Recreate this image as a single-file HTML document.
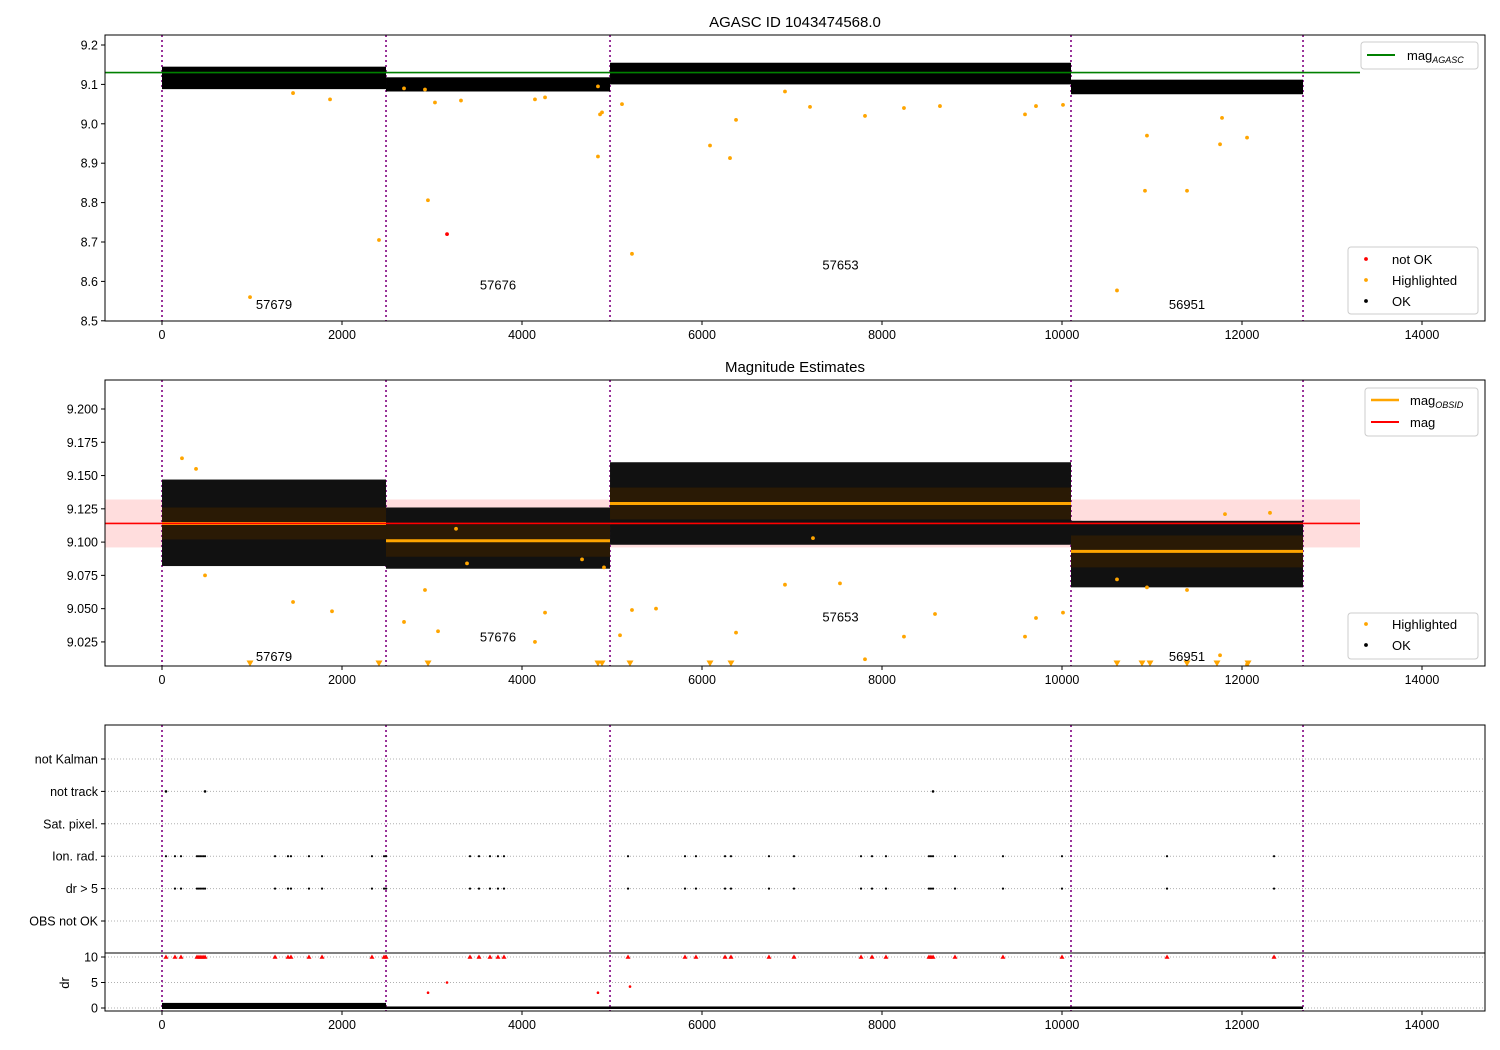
<!DOCTYPE html>
<html><head><meta charset="utf-8"><style>
body{margin:0;background:#fff;}
svg{display:block;font-family:"Liberation Sans","DejaVu Sans",sans-serif;}
</style></head><body>
<svg id="c" width="1500" height="1050" xmlns="http://www.w3.org/2000/svg"></svg>
<script>
const segStarts=[0,2489,4978,10100];
const segEnds=[2489,4978,10100,12678];
const obsids=["57679","57676","57653","56951"];
const p1Lo=[9.088,9.082,9.100,9.075];
const p1Hi=[9.145,9.118,9.155,9.112];
const p2Lo=[9.082,9.080,9.098,9.066];
const p2Hi=[9.147,9.126,9.160,9.116];
const obsMag=[9.114,9.101,9.129,9.093];
const magAgasc=9.13;
const magMean=9.114, magStd=0.018;
const p1HX=[978,2411,2955,1456,1867,2689,2922,3033,3322,4144,4256,4844,4889,4867,4844,5222,5111,6089,6311,6378,6922,7200,7811,8244,8644,9589,9711,10011,10944,10922,11389,11756,11778,12056,10611];
const p1HY=[8.56,8.705,8.806,9.078,9.062,9.09,9.087,9.054,9.059,9.062,9.067,9.095,9.029,9.024,8.917,8.67,9.05,8.945,8.913,9.01,9.082,9.043,9.02,9.04,9.045,9.024,9.045,9.048,8.97,8.83,8.83,8.948,9.015,8.965,8.577];
const p1RX=[3167];const p1RY=[8.72];
const p2HX=[222,378,478,1456,1889,2689,2922,3067,3267,3389,4144,4256,4667,4911,5089,5222,5489,6378,6922,7233,7533,7811,8244,8589,9589,9711,10011,10611,10944,11389,11756,12056,11811,12311];
const p2HY=[9.163,9.155,9.075,9.055,9.048,9.04,9.064,9.033,9.11,9.084,9.025,9.047,9.087,9.081,9.03,9.049,9.05,9.032,9.068,9.103,9.069,9.012,9.029,9.046,9.029,9.043,9.047,9.072,9.066,9.064,9.015,9.008,9.121,9.122];
const p2TX=[978,2411,2956,4844,4889,5200,6089,6322,10611,10889,10978,11389,11722,12067];
const cats=["not Kalman","not track","Sat. pixel.","Ion. rad.","dr > 5","OBS not OK"];
const flagX=[44,144,211,389,411,433,456,478,1256,1400,1433,1633,1778,2333,2467,2489,3422,3522,3644,3733,3800,5178,5811,5933,6256,6322,6744,7022,7767,7889,8044,8522,8544,8567,8811,9344,10000,11167,12356];
const notTrackX=[44,478,8567];
const drRedX=[2956,3167,4844,5200];
const drRedY=[3,5,3,4.2];
const drBand=[1.0,0.3,0.3,0.3];

const svg=document.getElementById('c');
const NS='http://www.w3.org/2000/svg';
function mk(t,a,p){const e=document.createElementNS(NS,t);for(const k in a)e.setAttribute(k,a[k]);(p||svg).appendChild(e);return e;}
const X=v=>162+v*0.09;
const Y1=v=>45+(9.2-v)*394;
const Y2=v=>409+(9.2-v)*1331;
const Yc=i=>759+i*32.4;
const Yd=v=>1008-v*5.1;
const L=105,R=1485;
const purple='#800080';

function xaxis(bot,tag){
  for(let v=0;v<=14000;v+=2000){
    const l=mk('line',{x1:X(v),x2:X(v),y1:bot,y2:bot+4,stroke:'#000'});
    
    const t=mk('text',{x:X(v),y:bot+18,'font-size':12.5,'text-anchor':'middle'});t.textContent=v;
    
  }
}
function vlines(top,bot){
  const xs=[0].concat(segEnds);
  xs.forEach(v=>{const l=mk('line',{x1:X(v),x2:X(v),y1:top,y2:bot,stroke:purple,'stroke-width':1.6,'stroke-dasharray':'2,3'});
  });
}
function ylab(y,txt,tag){
  mk('line',{x1:L-4,x2:L,y1:y,y2:y,stroke:'#000'});
  const t=mk('text',{x:L-7,y:y+4.5,'font-size':12.5,'text-anchor':'end'});t.textContent=txt;
  
}
function dot(x,y,r,c,name){const e=mk('circle',{cx:x,cy:y,r:r,fill:c});return e;}
function tri(x,y,c,s,name){const e=mk('path',{d:`M${x-s},${y-s*0.7}L${x+s},${y-s*0.7}L${x},${y+s}Z`,fill:c});}
function utri(x,y,c,s,name){const e=mk('path',{d:`M${x-s},${y+s*0.7}L${x+s},${y+s*0.7}L${x},${y-s}Z`,fill:c});}
function legendBox(x,y,w,h){mk('rect',{x:x,y:y,width:w,height:h,fill:'#fff',stroke:'#ccc',rx:3,'fill-opacity':0.8});}

// ---- Panel 1
let t=mk('text',{x:795,y:27,'font-size':15,'text-anchor':'middle'});t.textContent='AGASC ID 1043474568.0';

[9.2,9.1,9.0,8.9,8.8,8.7,8.6,8.5].forEach(v=>ylab(Y1(v),v.toFixed(1),'p1-y-tick-label'));
xaxis(321,'p1');
vlines(35,321);
for(let i=0;i<4;i++){
  const r=mk('rect',{x:X(segStarts[i]),y:Y1(p1Hi[i]),width:X(segEnds[i])-X(segStarts[i]),height:Y1(p1Lo[i])-Y1(p1Hi[i]),fill:'#000'});
  
}
let g=mk('line',{x1:L,x2:X(13311),y1:Y1(magAgasc),y2:Y1(magAgasc),stroke:'#008000','stroke-width':1.6});

p1HX.forEach((v,i)=>dot(X(v),Y1(p1HY[i]),1.9,'orange','p1-highlighted-point'));
p1RX.forEach((v,i)=>dot(X(v),Y1(p1RY[i]),1.9,'red','p1-not-ok-point'));
const lblY1=[8.535,8.585,8.635,8.535];
for(let i=0;i<4;i++){const tt=mk('text',{x:X((segStarts[i]+segEnds[i])/2),y:Y1(lblY1[i])+2,'font-size':13,'text-anchor':'middle'});tt.textContent=obsids[i];
}
mk('rect',{x:L,y:35,width:R-L,height:286,fill:'none',stroke:'#000'});
legendBox(1361,42,117,27);
mk('line',{x1:1367,x2:1395,y1:55,y2:55,stroke:'#008000','stroke-width':2});
t=mk('text',{x:1407,y:60,'font-size':13});t.innerHTML='mag<tspan font-size="9" font-style="italic" dy="3">AGASC</tspan>';

legendBox(1348,247,130,67);
[['red','not OK',260],['orange','Highlighted',281],['#000','OK',302]].forEach(a=>{dot(1366,a[2]-1,1.9,a[0],'legend-marker');const e=mk('text',{x:1392,y:a[2]+4,'font-size':13});e.textContent=a[1];});

// ---- Panel 2
t=mk('text',{x:795,y:372,'font-size':15,'text-anchor':'middle'});t.textContent='Magnitude Estimates';

[9.2,9.175,9.15,9.125,9.1,9.075,9.05,9.025].forEach(v=>ylab(Y2(v),v.toFixed(3),'p2-y-tick-label'));
xaxis(666,'p2');
let band=mk('rect',{x:L,y:Y2(magMean+magStd),width:X(13311)-L,height:Y2(magMean-magStd)-Y2(magMean+magStd),fill:'#ffdddd'});

vlines(380,666);
for(let i=0;i<4;i++){
  const x0=X(segStarts[i]),w=X(segEnds[i])-x0;
  const r=mk('rect',{x:x0,y:Y2(p2Hi[i]),width:w,height:Y2(p2Lo[i])-Y2(p2Hi[i]),fill:'#111'});
  
  mk('rect',{x:x0,y:Y2(obsMag[i]+0.012),width:w,height:Y2(obsMag[i]-0.012)-Y2(obsMag[i]+0.012),fill:'#2a1a05'});
  const l=mk('line',{x1:x0,x2:x0+w,y1:Y2(obsMag[i]),y2:Y2(obsMag[i]),stroke:'orange','stroke-width':3});
  
}
let rl=mk('line',{x1:L,x2:X(13311),y1:Y2(magMean),y2:Y2(magMean),stroke:'red','stroke-width':1.6});

p2HX.forEach((v,i)=>dot(X(v),Y2(p2HY[i]),1.9,'orange','p2-highlighted-point'));
p2TX.forEach(v=>tri(X(v),663,'orange',3.5,'p2-clipped-marker'));
const lblY2=[9.012,9.027,9.042,9.012];
for(let i=0;i<4;i++){const tt=mk('text',{x:X((segStarts[i]+segEnds[i])/2),y:Y2(lblY2[i])+2,'font-size':13,'text-anchor':'middle'});tt.textContent=obsids[i];
}
mk('rect',{x:L,y:380,width:R-L,height:286,fill:'none',stroke:'#000'});
legendBox(1365,388,113,48);
mk('line',{x1:1371,x2:1399,y1:400,y2:400,stroke:'orange','stroke-width':2.5});
t=mk('text',{x:1410,y:405,'font-size':13});t.innerHTML='mag<tspan font-size="9" font-style="italic" dy="3">OBSID</tspan>';

mk('line',{x1:1371,x2:1399,y1:422,y2:422,stroke:'red','stroke-width':2});
t=mk('text',{x:1410,y:427,'font-size':13});t.textContent='mag';
legendBox(1348,613,130,46);
[['orange','Highlighted',625],['#000','OK',646]].forEach(a=>{dot(1366,a[2]-1,1.9,a[0],'legend-marker');const e=mk('text',{x:1392,y:a[2]+4,'font-size':13});e.textContent=a[1];});

// ---- Panel 3 flags
cats.forEach((c,i)=>{mk('line',{x1:L,x2:R,y1:Yc(i),y2:Yc(i),stroke:'#b0b0b0','stroke-dasharray':'1,2'});ylab(Yc(i),c,'flag-category-label');});
[0,5,10].forEach(v=>{mk('line',{x1:L,x2:R,y1:Yd(v),y2:Yd(v),stroke:'#b0b0b0','stroke-dasharray':'1,2'});ylab(Yd(v),String(v),'dr-tick-label');});
t=mk('text',{x:0,y:0,'font-size':13,'text-anchor':'middle',transform:`translate(69,983) rotate(-90)`});t.textContent='dr';

xaxis(1011,'p3');
vlines(725,1011);
flagX.forEach(v=>{dot(X(v),Yc(3),1.1,'#000','ion-rad-flag');if(v>100)dot(X(v),Yc(4),1.1,'#000','dr5-flag');utri(X(v),Yd(10),'red',2.5,'dr-clipped-marker');});
notTrackX.forEach(v=>dot(X(v),Yc(1),1.3,'#000','not-track-flag'));
for(let i=0;i<4;i++){
  const r=mk('rect',{x:X(segStarts[i]),y:Yd(drBand[i]),width:X(segEnds[i])-X(segStarts[i]),height:Yd(0)-Yd(drBand[i])+1,fill:'#000'});
  
}
drRedX.forEach((v,i)=>dot(X(v),Yd(drRedY[i]),1.3,'red','dr-not-ok-point'));
mk('line',{x1:L,x2:R,y1:953,y2:953,stroke:'#000'});
mk('rect',{x:L,y:725,width:R-L,height:286,fill:'none',stroke:'#000'});
</script>
</body></html>
